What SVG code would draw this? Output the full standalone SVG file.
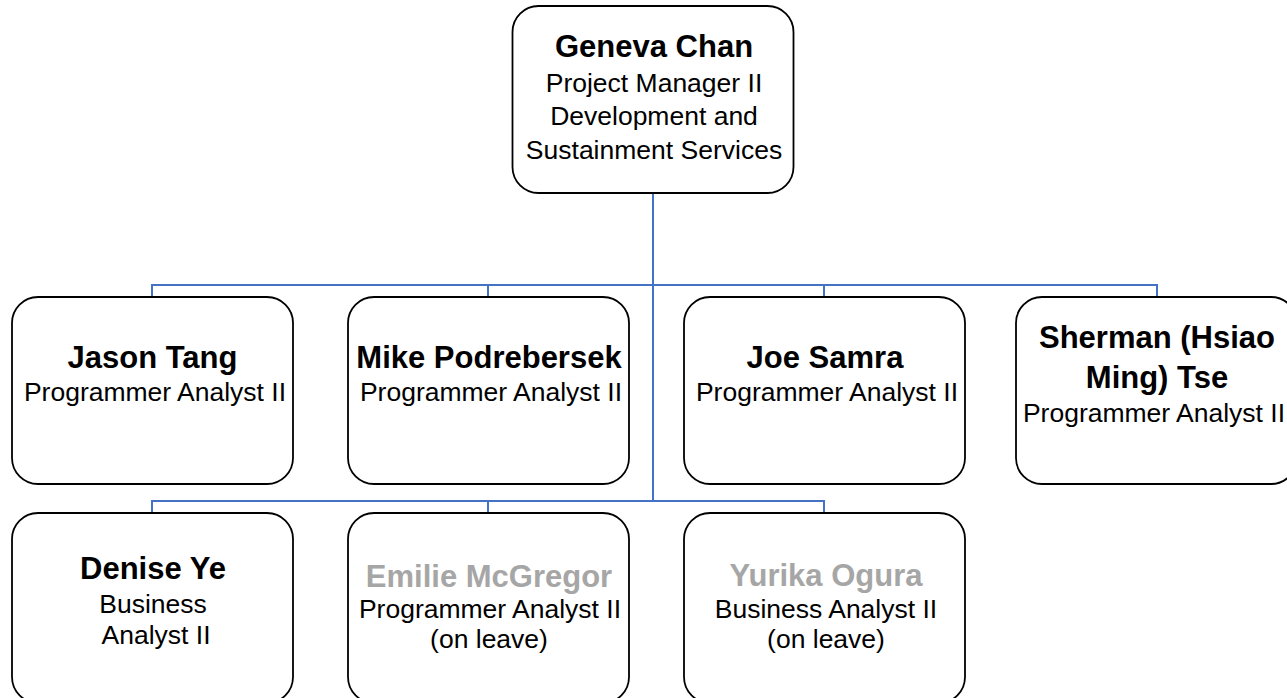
<svg xmlns="http://www.w3.org/2000/svg" width="1287" height="698" viewBox="0 0 1287 698">
<style>
.box{fill:#ffffff;stroke:#000000;stroke-width:1.8}
.conn{fill:none;stroke:#4472C4;stroke-width:2}
text{font-family:"Liberation Sans",Arial,sans-serif;text-anchor:middle;fill:#000000}
.n{font-weight:bold;font-size:31px}
.t{font-size:26.5px}
.g{fill:#A6A6A6}
</style>
<rect width="1287" height="698" fill="#ffffff"/>
<g id="connectors">
<path class="conn" d="M653 193V501"/>
<path class="conn" d="M152 297V285H1157V297M488 285V297M824 285V297"/>
<path class="conn" d="M152 513V501H824V513M488 501V513"/>
</g>
<g id="geneva">
<rect class="box" x="512.5" y="6" width="281" height="187" rx="26"/>
<text class="n" x="654" y="57">Geneva Chan</text>
<text class="t" x="654" y="92">Project Manager II</text>
<text class="t" x="654" y="125">Development and</text>
<text class="t" x="654" y="159">Sustainment Services</text>
</g>
<g id="jason">
<rect class="box" x="12" y="297" width="281" height="187" rx="26"/>
<text class="n" x="152.5" y="368">Jason Tang</text>
<text class="t" x="155" y="401">Programmer Analyst II</text>
</g>
<g id="mike">
<rect class="box" x="348" y="297" width="281" height="187" rx="26"/>
<text class="n" x="489" y="368">Mike Podrebersek</text>
<text class="t" x="491" y="401">Programmer Analyst II</text>
</g>
<g id="joe">
<rect class="box" x="684" y="297" width="281" height="187" rx="26"/>
<text class="n" x="825" y="368">Joe Samra</text>
<text class="t" x="827" y="401">Programmer Analyst II</text>
</g>
<g id="sherman">
<rect class="box" x="1016" y="297" width="281" height="187" rx="26"/>
<text class="n" x="1157" y="348">Sherman (Hsiao</text>
<text class="n" x="1157" y="388">Ming) Tse</text>
<text class="t" x="1154" y="422">Programmer Analyst II</text>
</g>
<g id="denise">
<rect class="box" x="12" y="513" width="281" height="190" rx="26"/>
<text class="n" x="153" y="579">Denise Ye</text>
<text class="t" x="153" y="613">Business</text>
<text class="t" x="156" y="644">Analyst II</text>
</g>
<g id="emilie">
<rect class="box" x="348" y="513" width="281" height="190" rx="26"/>
<text class="n g" x="489" y="587">Emilie McGregor</text>
<text class="t" x="490" y="618">Programmer Analyst II</text>
<text class="t" x="489" y="648">(on leave)</text>
</g>
<g id="yurika">
<rect class="box" x="684" y="513" width="281" height="190" rx="26"/>
<text class="n g" x="826" y="586">Yurika Ogura</text>
<text class="t" x="826" y="618">Business Analyst II</text>
<text class="t" x="826" y="648">(on leave)</text>
</g>
</svg>
